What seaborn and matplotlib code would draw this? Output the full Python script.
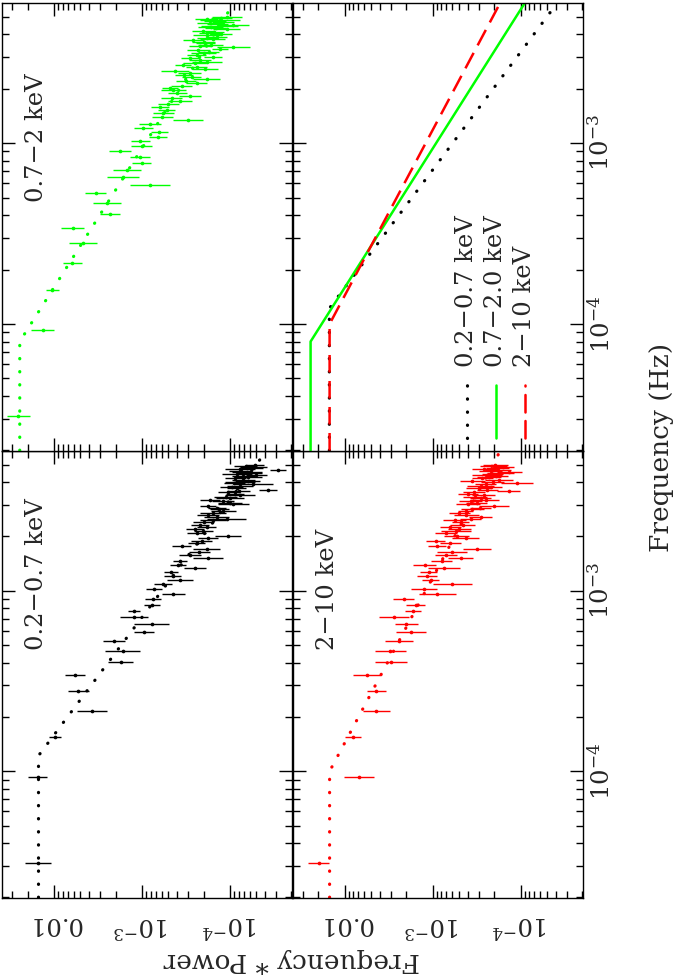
import numpy as np
import matplotlib
matplotlib.use("Agg")
import matplotlib.pyplot as plt
import seaborn as sns
from matplotlib.ticker import FixedLocator, FixedFormatter, LogLocator, NullFormatter

# Bin centre frequencies, in units of 1e-5 Hz (same grid for every band)
FREQ_E5 = [3.1, 9.3, 15.5, 21.7, 27.9, 34.1, 40.3, 46.5, 52.7, 58.9,
           65.1, 71.3, 77.5, 83.7, 89.9, 96.1, 102.3, 108.5, 114.7, 120.9,
           127.1, 133.3, 139.5, 145.7, 151.9, 158.1, 164.3, 170.5, 176.7, 182.9,
           189.1, 195.3, 201.5, 207.7, 213.9, 220.1, 226.3, 232.5, 238.7, 244.9,
           251.1, 257.3, 263.5, 269.7, 275.9, 282.1, 288.3, 294.5, 300.7, 306.9,
           313.1, 319.3, 325.5, 331.7, 337.9, 344.1, 350.3, 356.5, 362.7, 368.9,
           375.1, 381.3, 387.5, 393.7, 399.9, 406.1, 412.3, 418.5, 424.7, 430.9,
           437.1, 443.3, 449.5, 455.7, 461.9, 468.1, 474.3, 480.5, 486.7, 492.9,
           499.1]

# Frequency * Power, 0.2-0.7 keV
SOFT_POWER = [1.53e-2, 1.53e-2, 9.75e-3, 3.73e-3, 5.30e-3, 5.77e-3, 1.75e-3, 1.66e-3, 2.08e-3, 9.48e-4,
              7.76e-4, 1.23e-3, 1.23e-3, 7.76e-4, 7.45e-4, 4.41e-4, 7.24e-4, 5.73e-4, 3.70e-4, 4.48e-4,
              4.68e-4, 2.50e-4, 3.93e-4, 3.72e-4, 1.77e-4, 2.85e-4, 2.23e-4, 1.84e-4, 3.54e-4, 2.40e-4,
              2.10e-4, 1.77e-4, 1.06e-4, 2.39e-4, 2.01e-4, 2.51e-4, 1.84e-4, 2.19e-4, 2.00e-4, 1.55e-4,
              1.09e-4, 1.42e-4, 1.78e-4, 1.55e-4, 1.19e-4, 1.32e-4, 1.41e-4, 1.77e-4, 9.16e-5, 1.00e-4,
              1.20e-4, 1.69e-4, 1.00e-4, 1.12e-4, 7.69e-5, 8.77e-5, 1.05e-4, 7.94e-5, 3.67e-5, 8.39e-5,
              9.55e-5, 7.69e-5, 5.43e-5, 8.91e-5, 7.69e-5, 6.31e-5, 7.06e-5, 8.71e-5, 6.19e-5, 7.08e-5,
              5.01e-5, 8.39e-5, 6.03e-5, 6.46e-5, 7.59e-5, 2.82e-5, 7.69e-5, 5.62e-5, 5.43e-5, 6.61e-5,
              5.20e-5]
# error bar half widths in dex
SOFT_ERR = [0.15, 0.11, 0.07, 0.17, 0.12, 0.11, 0.14, 0.20, 0.13, 0.11,
            0.20, 0.16, 0.07, 0.09, 0.09, 0.13, 0.09, 0.10, 0.15, 0.10,
            0.08, 0.13, 0.09, 0.08, 0.17, 0.13, 0.12, 0.15, 0.11, 0.10,
            0.12, 0.11, 0.15, 0.11, 0.11, 0.10, 0.11, 0.10, 0.12, 0.15,
            0.22, 0.14, 0.12, 0.15, 0.14, 0.11, 0.10, 0.09, 0.18, 0.14,
            0.12, 0.11, 0.16, 0.13, 0.17, 0.10, 0.12, 0.13, 0.10, 0.11,
            0.13, 0.15, 0.22, 0.12, 0.17, 0.14, 0.13, 0.12, 0.15, 0.13,
            0.12, 0.17, 0.14, 0.17, 0.13, 0.09, 0.17, 0.12, 0.15, 0.13,
            0.10]

# 0.7-2 keV
MED_POWER = [2.55e-2, 1.34e-2, 1.04e-2, 6.19e-3, 4.72e-3, 6.14e-3, 2.31e-3, 2.52e-3, 3.36e-3, 8.11e-4,
             1.63e-3, 1.49e-3, 1.01e-3, 1.05e-3, 1.78e-3, 1.01e-3, 1.04e-3, 6.53e-4, 6.35e-4, 9.66e-4,
             8.11e-4, 2.98e-4, 5.89e-4, 5.73e-4, 5.25e-4, 6.24e-4, 5.01e-4, 3.70e-4, 4.60e-4, 2.85e-4,
             3.98e-4, 4.41e-4, 4.81e-4, 3.55e-4, 2.39e-4, 3.16e-4, 1.84e-4, 2.72e-4, 3.31e-4, 2.88e-4,
             4.22e-4, 1.92e-4, 2.40e-4, 3.40e-4, 2.51e-4, 1.84e-4, 2.19e-4, 2.82e-4, 1.55e-4, 2.39e-4,
             2.00e-4, 1.74e-4, 2.29e-4, 1.30e-4, 9.16e-5, 2.19e-4, 1.66e-4, 1.91e-4, 2.00e-4, 2.61e-4,
             1.58e-4, 1.82e-4, 1.41e-4, 1.84e-4, 1.26e-4, 1.66e-4, 1.51e-4, 2.01e-4, 1.09e-4, 1.45e-4,
             1.66e-4, 1.30e-4, 9.16e-5, 1.38e-4, 1.70e-4, 1.20e-4, 1.48e-4, 1.30e-4, 1.84e-4, 1.26e-4,
             1.09e-4]
MED_ERR = [0.13, 0.13, 0.07, 0.11, 0.16, 0.13, 0.11, 0.16, 0.12, 0.23,
           0.18, 0.16, 0.11, 0.11, 0.12, 0.12, 0.11, 0.10, 0.10, 0.11,
           0.13, 0.17, 0.12, 0.12, 0.10, 0.10, 0.12, 0.14, 0.12, 0.12,
           0.11, 0.14, 0.09, 0.12, 0.12, 0.11, 0.15, 0.11, 0.10, 0.13,
           0.16, 0.15, 0.12, 0.09, 0.13, 0.17, 0.12, 0.11, 0.10, 0.11,
           0.14, 0.12, 0.13, 0.09, 0.19, 0.12, 0.14, 0.11, 0.13, 0.12,
           0.14, 0.12, 0.11, 0.15, 0.12, 0.13, 0.11, 0.13, 0.15, 0.12,
           0.14, 0.21, 0.18, 0.12, 0.14, 0.13, 0.12, 0.23, 0.13, 0.12,
           0.17]

# 2-10 keV
HARD_POWER = [1.97e-2, 6.93e-3, 8.04e-3, 4.37e-3, 4.37e-3, 5.66e-3, 2.97e-3, 3.03e-3, 2.43e-3, 1.75e-3,
              2.00e-3, 2.77e-3, 1.67e-3, 1.57e-3, 2.14e-3, 8.91e-4, 1.26e-3, 6.03e-4, 1.06e-3, 1.16e-3,
              1.12e-3, 7.50e-4, 1.24e-3, 7.94e-4, 4.84e-4, 7.08e-4, 6.03e-4, 3.13e-4, 8.91e-4, 6.31e-4,
              9.31e-4, 4.25e-4, 5.37e-4, 7.08e-4, 5.52e-4, 5.01e-4, 6.31e-4, 4.57e-4, 4.84e-4, 5.62e-4,
              3.72e-4, 2.87e-4, 4.17e-4, 5.01e-4, 4.25e-4, 3.55e-4, 2.88e-4, 2.03e-4, 3.98e-4, 3.16e-4,
              3.72e-4, 2.51e-4, 2.87e-4, 3.31e-4, 2.63e-4, 3.98e-4, 3.41e-4, 1.37e-4, 2.41e-4, 3.02e-4,
              2.19e-4, 2.87e-4, 2.51e-4, 1.10e-4, 2.09e-4, 3.55e-4, 1.78e-4, 2.75e-4, 2.29e-4, 1.91e-4,
              2.41e-4, 2.09e-4, 1.70e-4, 1.35e-4, 2.19e-4, 1.82e-4, 2.63e-4, 1.86e-4, 1.58e-4, 2.04e-4,
              1.95e-4]
HARD_ERR = [0.12, 0.17, 0.09, 0.15, 0.11, 0.16, 0.18, 0.18, 0.16, 0.17,
            0.13, 0.17, 0.09, 0.11, 0.12, 0.21, 0.15, 0.22, 0.10, 0.11,
            0.10, 0.18, 0.13, 0.12, 0.14, 0.12, 0.17, 0.16, 0.10, 0.12,
            0.11, 0.15, 0.14, 0.12, 0.17, 0.13, 0.12, 0.14, 0.10, 0.13,
            0.12, 0.13, 0.14, 0.12, 0.09, 0.13, 0.12, 0.17, 0.14, 0.12,
            0.13, 0.15, 0.12, 0.14, 0.13, 0.11, 0.13, 0.13, 0.12, 0.14,
            0.13, 0.15, 0.12, 0.18, 0.13, 0.14, 0.16, 0.12, 0.14, 0.13,
            0.17, 0.12, 0.15, 0.14, 0.13, 0.15, 0.14, 0.13, 0.12, 0.15,
            0.14]

# broken power law models: vertices (low end, break, high end)
SOFT_MODEL_FREQ = [2.0e-5, 1.22e-4, 6.0e-3]
SOFT_MODEL_POWER = [1.50e-2, 1.50e-2, 3.8e-5]
MED_MODEL_FREQ = [2.0e-5, 8.0e-5, 6.0e-3]
MED_MODEL_POWER = [2.45e-2, 2.45e-2, 8.9e-5]
HARD_MODEL_FREQ = [2.0e-5, 1.0e-4, 6.0e-3]
HARD_MODEL_POWER = [1.49e-2, 1.49e-2, 1.7e-4]

BAND_LABELS = ["0.2\u22120.7 keV", "0.7\u22122 keV", "2\u221210 keV"]
LEGEND_LABELS = ["0.2\u22120.7 keV", "0.7\u22122.0 keV", "2\u221210 keV"]

POWER_TICKS = [1e-2, 1e-3, 1e-4]
POWER_TICK_LABELS = ["0.01", "$10^{-3}$", "$10^{-4}$"]
FREQ_TICKS = [1e-4, 1e-3]
FREQ_TICK_LABELS = ["$10^{-4}$", "$10^{-3}$"]

BLACK = "#000000"
GREEN = "#00ff00"
RED = "#ff0000"

DOT = (0, (0.1, 4.0))
DASH = (0, (7.0, 3.4))


def style_axes(ax, show_bottom, show_right):
    ax.set_xscale("log")
    ax.set_yscale("log")
    ax.set_xlim(0.0393, 1.95e-5)   # power grows to the left
    ax.set_ylim(1.987e-5, 5.94e-3)
    ax.xaxis.set_major_locator(FixedLocator(POWER_TICKS))
    ax.xaxis.set_major_formatter(FixedFormatter(POWER_TICK_LABELS))
    ax.xaxis.set_minor_locator(LogLocator(base=10, subs=np.arange(2, 10)))
    ax.xaxis.set_minor_formatter(NullFormatter())
    ax.yaxis.set_major_locator(FixedLocator(FREQ_TICKS))
    ax.yaxis.set_major_formatter(FixedFormatter(FREQ_TICK_LABELS))
    ax.yaxis.set_minor_locator(LogLocator(base=10, subs=np.arange(2, 10)))
    ax.yaxis.set_minor_formatter(NullFormatter())
    ax.tick_params(which="both", direction="in", top=True, bottom=True,
                   left=True, right=True, width=1.0, color="black")
    ax.tick_params(which="major", length=9.4)
    ax.tick_params(which="minor", length=5)
    ax.tick_params(axis="x", labelbottom=show_bottom, labeltop=False,
                   labelrotation=180, pad=10, labelsize=17.5)
    ax.tick_params(axis="y", labelleft=False, labelright=show_right,
                   labelrotation=90, pad=3.5, labelsize=17.5)
    for lbl in ax.get_yticklabels():
        lbl.set_verticalalignment("center")
    for sp in ax.spines.values():
        sp.set_linewidth(1.0)
        sp.set_color("black")


def draw_band(ax, power, err, color, model_f, model_p, label):
    freq = np.array(FREQ_E5) * 1e-5
    power = np.array(power)
    err = np.array(err)
    lo = power - power / 10 ** err
    hi = power * 10 ** err - power
    ax.errorbar(power, freq, xerr=[lo, hi], fmt="none", ecolor=color,
                elinewidth=1.0, capsize=0)
    sns.scatterplot(x=power, y=freq, ax=ax, color=color, s=7,
                    marker="o", linewidth=0)
    sns.lineplot(x=model_p, y=model_f, ax=ax, color=color, orient="y",
                 sort=False, estimator=None, linewidth=2.3,
                 linestyle=DOT, dash_capstyle="round")
    ax.text(0.12, 0.555, label, transform=ax.transAxes, rotation=90,
            ha="center", va="bottom", fontsize=17.5)


sns.set_style("ticks")
plt.rcParams["font.family"] = ["DejaVu Serif"]
plt.rcParams["mathtext.fontset"] = "dejavuserif"

fig = plt.figure(figsize=(6.77, 9.77), dpi=100)
ax_soft = fig.add_axes([0.0025, 0.08086, 0.4295, 0.45752])
ax_hard = fig.add_axes([0.4321, 0.08086, 0.4295, 0.45752])
ax_med = fig.add_axes([0.0025, 0.53838, 0.4295, 0.45855])
ax_mod = fig.add_axes([0.4321, 0.53838, 0.4295, 0.45855])

for ax in (ax_soft, ax_hard, ax_med, ax_mod):
    ax.set_xscale("log")
    ax.set_yscale("log")

draw_band(ax_soft, SOFT_POWER, SOFT_ERR, BLACK, SOFT_MODEL_FREQ, SOFT_MODEL_POWER, BAND_LABELS[0])
draw_band(ax_med, MED_POWER, MED_ERR, GREEN, MED_MODEL_FREQ, MED_MODEL_POWER, BAND_LABELS[1])
draw_band(ax_hard, HARD_POWER, HARD_ERR, RED, HARD_MODEL_FREQ, HARD_MODEL_POWER, BAND_LABELS[2])

# model comparison panel
sns.lineplot(x=SOFT_MODEL_POWER, y=SOFT_MODEL_FREQ, ax=ax_mod, color=BLACK, orient="y",
             sort=False, estimator=None, linewidth=2.3, linestyle=DOT, dash_capstyle="round")
sns.lineplot(x=MED_MODEL_POWER, y=MED_MODEL_FREQ, ax=ax_mod, color=GREEN, orient="y",
             sort=False, estimator=None, linewidth=1.8, linestyle="-")
sns.lineplot(x=HARD_MODEL_POWER, y=HARD_MODEL_FREQ, ax=ax_mod, color=RED, orient="y",
             sort=False, estimator=None, linewidth=1.8, linestyle=DASH)

# hand-made legend (entries stacked sideways, text reading upwards)
legend_styles = [(BLACK, DOT, 2.3), (GREEN, "-", 1.8), (RED, DASH, 1.8)]
for i, (col, ls, lw) in enumerate(legend_styles):
    xa = 0.600 + 0.0995 * i
    ax_mod.plot([xa, xa], [0.029, 0.147], transform=ax_mod.transAxes, color=col,
                linestyle=ls, linewidth=lw, dash_capstyle="round")
    ax_mod.text(xa, 0.188, LEGEND_LABELS[i], transform=ax_mod.transAxes, rotation=90,
                ha="center", va="bottom", fontsize=17.5)

style_axes(ax_med, False, False)
style_axes(ax_mod, False, True)
style_axes(ax_soft, True, False)
style_axes(ax_hard, True, True)

fig.text(0.4306, 0.0164, "Frequency * Power", rotation=180, ha="center", va="center",
         fontsize=19)
fig.text(0.977, 0.542, "Frequency (Hz)", rotation=90, ha="center", va="center",
         fontsize=19)

fig.savefig("out.png", dpi=100)
